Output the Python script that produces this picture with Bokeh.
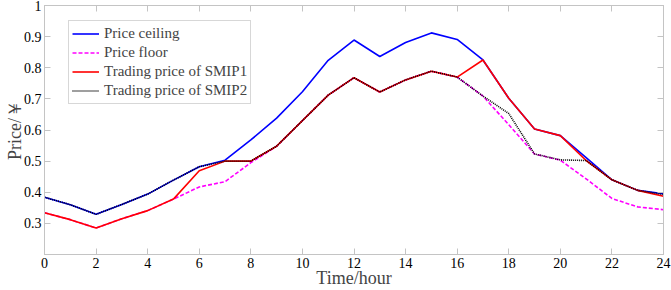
from bokeh.plotting import figure
from bokeh.models import LinearAxis, FixedTicker, Range1d, Legend, LegendItem
from bokeh.embed import file_html
from bokeh.resources import INLINE

hours = list(range(25))
price_ceiling = [0.384, 0.360, 0.329, 0.361, 0.394, 0.439, 0.482, 0.503, 0.568, 0.638,
                 0.723, 0.824, 0.889, 0.836, 0.881, 0.912, 0.891, 0.825, 0.702, 0.603,
                 0.582, 0.511, 0.440, 0.406, 0.395]
price_floor = [0.334, 0.312, 0.285, 0.315, 0.341, 0.378, 0.417, 0.434, 0.495, 0.548,
               0.630, 0.712, 0.768, 0.722, 0.761, 0.789, 0.770, 0.709, 0.617, 0.523,
               0.503, 0.443, 0.380, 0.353, 0.344]
smip1 = [0.334, 0.312, 0.285, 0.315, 0.341, 0.378, 0.469, 0.500, 0.500, 0.548,
         0.630, 0.712, 0.768, 0.722, 0.761, 0.789, 0.770, 0.825, 0.702, 0.603,
         0.582, 0.502, 0.440, 0.406, 0.387]
smip2 = [0.384, 0.360, 0.329, 0.361, 0.394, 0.439, 0.482, 0.500, 0.500, 0.548,
         0.630, 0.712, 0.768, 0.722, 0.761, 0.789, 0.770, 0.709, 0.653, 0.523,
         0.504, 0.502, 0.440, 0.406, 0.393]
x_ticks = list(range(0, 25, 2))
y_ticks = [0.3, 0.4, 0.5, 0.6, 0.7, 0.8, 0.9, 1.0]
y_tick_labels = {0.3: "0.3", 0.4: "0.4", 0.5: "0.5", 0.6: "0.6", 0.7: "0.7",
                 0.8: "0.8", 0.9: "0.9", 1.0: "1"}
x_title = "Time/hour"
y_title = "Price/￥"

FONT = "Liberation Serif"
AXC = "#c4c4c4"

p = figure(width=671, height=290, output_backend="svg", toolbar_location=None,
           x_range=Range1d(0, 24), y_range=Range1d(0.2, 1.0),
           min_border_left=44, min_border_right=8, min_border_top=5, min_border_bottom=35)
p.grid.visible = False
p.outline_line_color = AXC
p.background_fill_color = "white"
p.border_fill_color = "white"

def style_axis(ax):
    ax.axis_line_color = AXC
    ax.major_tick_line_color = AXC
    ax.major_tick_in = 6
    ax.major_tick_out = 0
    ax.minor_tick_line_color = None
    ax.major_label_text_font = FONT
    ax.major_label_text_font_size = "14px"
    ax.major_label_text_color = "black"

xa = p.xaxis[0]
style_axis(xa)
xa.ticker = FixedTicker(ticks=x_ticks)
xa.major_label_standoff = 3
xa.axis_label = x_title
xa.axis_label_text_font = FONT
xa.axis_label_text_font_size = "18px"
xa.axis_label_text_font_style = "normal"
xa.axis_label_standoff = -3

ya = p.yaxis[0]
style_axis(ya)
ya.ticker = FixedTicker(ticks=y_ticks)
ya.major_label_overrides = y_tick_labels
ya.major_label_standoff = 3
ya.axis_label = y_title
ya.axis_label_text_font = FONT
ya.axis_label_text_font_size = "18px"
ya.axis_label_text_font_style = "normal"
ya.axis_label_standoff = -4

top = LinearAxis(ticker=FixedTicker(ticks=x_ticks))
style_axis(top)
top.major_label_overrides = {t: "" for t in x_ticks}
top.major_label_standoff = 0
p.add_layout(top, "above")
right = LinearAxis(ticker=FixedTicker(ticks=y_ticks))
style_axis(right)
right.major_label_overrides = {t: "" for t in y_ticks}
right.major_label_standoff = 0
p.add_layout(right, "right")

r1 = p.line(hours, price_ceiling, line_color="#0000ff", line_width=1.6)
r2 = p.line(hours, price_floor, line_color="#ff00ff", line_width=1.6, line_dash="4 2")
r3 = p.line(hours, smip1, line_color="#ff0000", line_width=1.6)
r4 = p.line(hours, smip2, line_color="black", line_width=1.6, line_dash="1 1")

legend = Legend(items=[
    LegendItem(label="Price ceiling", renderers=[r1]),
    LegendItem(label="Price floor", renderers=[r2]),
    LegendItem(label="Trading price of SMIP1", renderers=[r3]),
    LegendItem(label="Trading price of SMIP2", renderers=[r4]),
], location=(24, 150))
legend.label_text_font = FONT
legend.label_text_font_size = "15px"
legend.label_height = 19
legend.glyph_height = 19
legend.glyph_width = 27
legend.spacing = 0
legend.padding = 3
legend.margin = 0
legend.label_standoff = 5
legend.border_line_color = "#b0b0b0"
legend.border_line_width = 1
legend.background_fill_alpha = 1
p.add_layout(legend, "center")

open("out.html", "w").write(file_html(p, INLINE))
